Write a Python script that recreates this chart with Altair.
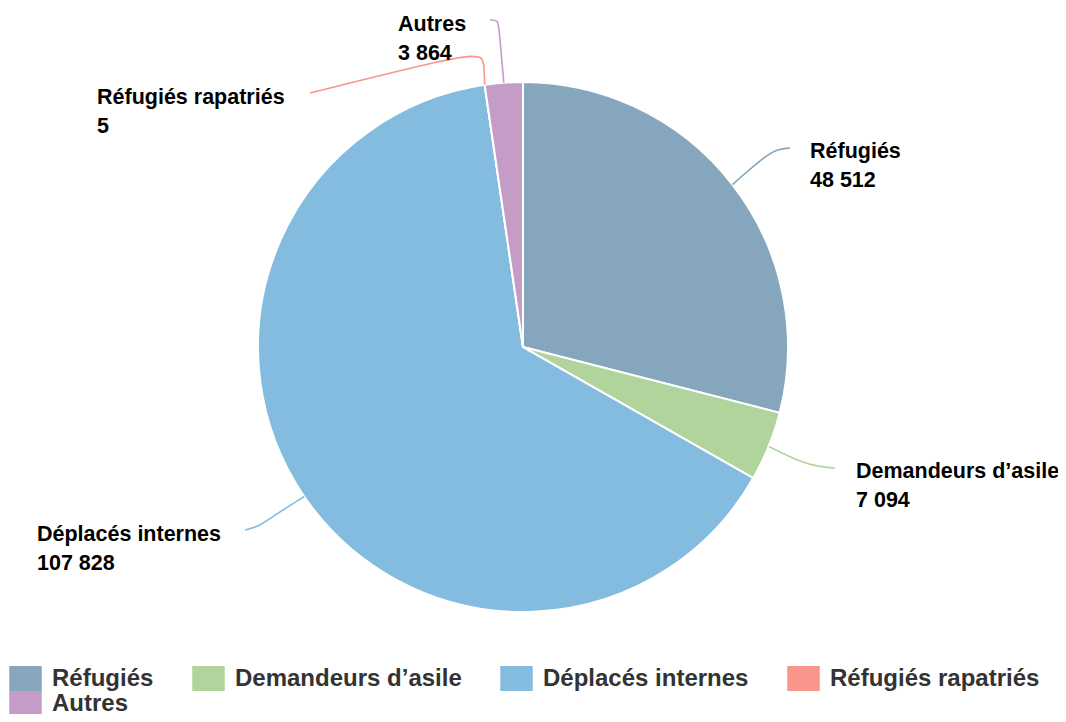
import altair as alt
import pandas as pd
import numpy as np

# ---- data ----
categories = ["Réfugiés", "Demandeurs d’asile", "Déplacés internes", "Réfugiés rapatriés", "Autres"]
values = [48512, 7094, 107828, 5, 3864]
colors = ["#85a6bd", "#b0d49b", "#84bcdf", "#f9968b", "#c49cc6"]

# ---- layout (pixels relative to the pie centre, y downwards) ----
RADIUS = 265
# left edge and first-line centre of each label block
label_anchor = [(287, -195), (333, 125), (-486, 188), (-426, -249), (-125, -322)]
leader_waypoints = [
    [(242, -191), (255, -198), (267, -199)],
    [(277, 115), (297, 120), (312, 121)],
    [(-248, 168), (-265, 180), (-278, 183)],
    [(-39, -283), (-41, -290), (-50, -291), (-68, -290), (-213, -254)],
    [(-24, -319), (-25, -327), (-33, -327)],
]

total = sum(values)
cum = np.cumsum([0] + values[:-1])
mid_angle = [2 * np.pi * (c + v / 2) / total for c, v in zip(cum, values)]

def fmt(v):
    return f"{v:,}".replace(",", " ")

pie_df = pd.DataFrame({
    "cat": categories, "value": values, "idx": range(len(values)),
    "cx": [0] * len(values), "cy": [0] * len(values),
})

line_rows = []
for i, (cat, a) in enumerate(zip(categories, mid_angle)):
    pts = [(RADIUS * np.sin(a), -RADIUS * np.cos(a))] + leader_waypoints[i]
    for k, (px, py) in enumerate(pts):
        line_rows.append({"cat": cat, "k": k, "x": px, "y": py})
line_df = pd.DataFrame(line_rows)

label_df = pd.DataFrame({
    "cat": categories,
    "label": [f"{c}\n{fmt(v)}" for c, v in zip(categories, values)],
    "x": [p[0] for p in label_anchor],
    "y": [p[1] for p in label_anchor],
})

W, H = 1050, 706
CX, CY = 515, 339
xscale = alt.Scale(domain=[-CX, W - CX], nice=False, zero=False)
yscale = alt.Scale(domain=[-CY, H - CY], nice=False, zero=False, reverse=True)

color_scale = alt.Scale(domain=categories, range=colors)

pie = alt.Chart(pie_df).mark_arc(outerRadius=RADIUS, stroke="white", strokeWidth=2).encode(
    theta=alt.Theta("value:Q", stack=True),
    order=alt.Order("idx:Q"),
    x=alt.X("cx:Q", scale=xscale, axis=None),
    y=alt.Y("cy:Q", scale=yscale, axis=None),
    color=alt.Color("cat:N", scale=color_scale, legend=alt.Legend(
        orient="none", legendX=5, legendY=658, direction="horizontal", columns=4,
        title=None, symbolType="M-1.3,-1H1.3V1H-1.3Z", symbolSize=625,
        symbolStrokeWidth=0, symbolOpacity=1,
        labelFont="Liberation Sans", labelFontSize=24, labelFontWeight="bold",
        labelColor="#333333", labelOffset=14, columnPadding=38, rowPadding=0,
        labelLimit=400,
    )),
)

lines = alt.Chart(line_df).mark_line(strokeWidth=1.6, interpolate="basis").encode(
    x=alt.X("x:Q", scale=xscale, axis=None),
    y=alt.Y("y:Q", scale=yscale, axis=None),
    detail="cat:N",
    order="k:Q",
    color=alt.Color("cat:N", scale=color_scale),
)

labels = alt.Chart(label_df).mark_text(
    align="left", baseline="middle", font="Liberation Sans", fontSize=21.5,
    fontWeight="bold", color="#000000", lineBreak="\n", lineHeight=29,
).encode(
    x=alt.X("x:Q", scale=xscale, axis=None),
    y=alt.Y("y:Q", scale=yscale, axis=None),
    text="label:N",
)

chart = alt.layer(pie, lines, labels).properties(
    width=W, height=H, padding=0,
    autosize=alt.AutoSizeParams(type="none"),
).configure_view(stroke=None)

chart.save("out.html", embed_options={"renderer": "svg", "actions": False})
